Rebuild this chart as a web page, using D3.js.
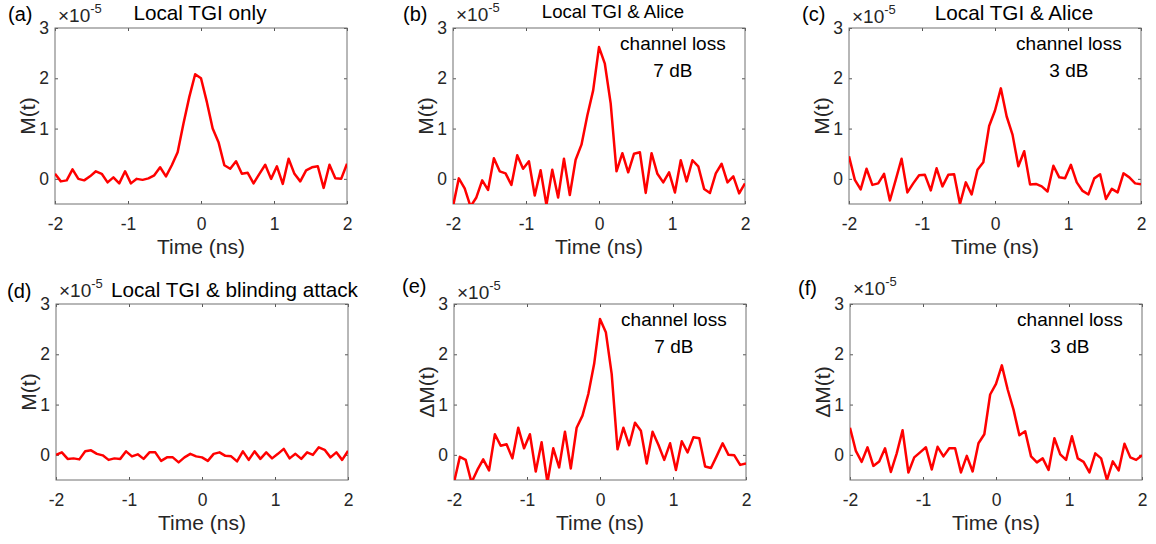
<!DOCTYPE html>
<html>
<head>
<meta charset="utf-8">
<script src="https://cdn.jsdelivr.net/npm/d3@7"></script>
<style>
  body { margin: 0; background: #fff; }
  text { font-family: "Liberation Sans", Arial, sans-serif; }
</style>
</head>
<body>
<div id="chart"></div>
<script>
// time axis (ns) and the six traces, in units of 1e-5
var times = [-2, -1.92, -1.84, -1.76, -1.68, -1.6, -1.52, -1.44, -1.36, -1.28, -1.2, -1.12, -1.04,
  -0.96, -0.88, -0.8, -0.72, -0.64, -0.56, -0.48, -0.4, -0.32, -0.24, -0.16, -0.08, 0,
  0.08, 0.16, 0.24, 0.32, 0.4, 0.48, 0.56, 0.64, 0.72, 0.8, 0.88, 0.96, 1.04, 1.12, 1.2,
  1.28, 1.36, 1.44, 1.52, 1.6, 1.68, 1.76, 1.84, 1.92, 2];

var mA = [0.1, -0.05, -0.03, 0.19, 0, -0.03, 0.05, 0.15, 0.1, -0.07, 0.03, -0.09, 0.15, -0.09, 0, -0.02,
  0.01, 0.07, 0.23, 0.05, 0.27, 0.53, 1.1, 1.63, 2.08, 2.0, 1.53, 1.0, 0.73, 0.27, 0.2, 0.35, 0.1, 0.12,
  -0.09, 0.1, 0.28, 0, 0.25, -0.1, 0.4, 0.1, -0.05, 0.17, 0.23, 0.25, -0.18, 0.28, 0.01, 0, 0.3];
var mB = [-0.55, 0.01, -0.19, -0.55, -0.37, -0.03, -0.22, 0.41, 0.15, 0.11, -0.12, 0.47, 0.2, 0.35, -0.33,
  0.17, -0.52, 0.18, -0.37, 0.4, -0.32, 0.38, 0.68, 1.26, 1.76, 2.62, 2.29, 1.5, 0.15, 0.51, 0.13, 0.5,
  0.53, -0.28, 0.51, 0.1, -0.07, 0.13, -0.27, 0.37, -0.05, 0.37, 0.25, -0.2, -0.28, 0.11, 0.3, -0.07,
  0.05, -0.29, -0.09];
var mC = [0.45, -0.02, -0.21, 0.2, -0.12, -0.09, 0.1, -0.43, -0.02, 0.4, -0.27, -0.09, 0.07, 0.08, -0.23,
  0.21, -0.15, 0.08, 0.09, -0.5, -0.07, -0.31, 0.18, 0.33, 1.05, 1.36, 1.8, 1.24, 0.88, 0.25, 0.55, -0.11,
  -0.1, -0.15, -0.25, 0.26, 0.03, 0.01, 0.28, -0.07, -0.24, -0.31, 0.01, 0.09, -0.4, -0.2, -0.27, 0.11,
  0.03, -0.09, -0.11];
var mD = [0, 0.05, -0.08, -0.07, -0.09, 0.07, 0.09, 0.02, -0.01, -0.1, -0.07, -0.08, 0.07, -0.03, 0.01,
  -0.08, 0.05, 0.05, -0.12, -0.05, -0.05, -0.15, -0.05, 0.02, -0.03, -0.05, -0.12, 0.02, 0.05, -0.02,
  -0.03, -0.13, 0.07, -0.1, 0.07, -0.08, 0.05, -0.07, 0.02, 0.12, -0.07, 0.02, -0.08, 0.05, 0, 0.15,
  0.1, -0.05, 0.05, -0.1, 0.08];
var mE = [-0.55, -0.04, -0.1, -0.55, -0.3, -0.09, -0.31, 0.41, 0.18, 0.21, -0.07, 0.54, 0.13, 0.41, -0.33,
  0.25, -0.55, 0.13, -0.25, 0.46, -0.27, 0.54, 0.78, 1.21, 1.81, 2.7, 2.44, 1.61, 0.11, 0.54, 0.19, 0.64,
  0.48, -0.17, 0.46, 0.2, -0.1, 0.23, -0.3, 0.27, 0.05, 0.35, 0.33, -0.23, -0.26, -0.02, 0.23, 0, -0.01,
  -0.2, -0.17];
var mF = [0.54, 0.08, -0.14, 0.15, -0.22, -0.13, 0.13, -0.34, 0.03, 0.49, -0.35, -0.05, 0.05, 0.15, -0.29,
  0.16, -0.03, 0.13, 0.13, -0.35, -0.02, -0.33, 0.23, 0.41, 1.2, 1.41, 1.78, 1.3, 0.9, 0.39, 0.47, -0.03,
  -0.15, -0.07, -0.3, 0.33, 0.01, -0.1, 0.37, -0.07, -0.14, -0.35, 0.03, -0.07, -0.5, -0.13, -0.31, 0.22,
  -0.05, -0.1, -0.01];

var xTicks = [-2, -1, 0, 1, 2];
var yTicks = [0, 1, 2, 3];

var panels = [
  {tag: "(a)", title: "Local TGI only", ylab: "M(t)", vals: mA, left: 55, top: 28,
   tagX: 8, tagY: 21, titleX: 200, titleY: 20, titleAnchor: "middle", exY: 22, note: null},
  {tag: "(b)", title: "Local TGI & Alice", ylab: "M(t)", vals: mB, left: 453, top: 28,
   tagX: 403, tagY: 21, titleX: 613, titleY: 18, titleAnchor: "middle", titleSize: 18.6, exY: 21, note: "7 dB"},
  {tag: "(c)", title: "Local TGI & Alice", ylab: "M(t)", vals: mC, left: 849, top: 28,
   tagX: 802, tagY: 21, titleX: 1014, titleY: 20, titleAnchor: "middle", exY: 23, note: "3 dB"},
  {tag: "(d)", title: "Local TGI & blinding attack", ylab: "M(t)", vals: mD, left: 56, top: 304,
   tagX: 7, tagY: 298, titleX: 111, titleY: 297, titleAnchor: "start", exY: 297, note: null},
  {tag: "(e)", title: null, ylab: "\u0394M(t)", vals: mE, left: 454, top: 304,
   tagX: 402, tagY: 293, exY: 299, note: "7 dB"},
  {tag: "(f)", title: null, ylab: "\u0394M(t)", vals: mF, left: 850, top: 304,
   tagX: 798, tagY: 295, exY: 295, note: "3 dB"}
];

var width = 292, height = 176;
var axisCol = "#262626";

var svg = d3.select("#chart").append("svg")
  .attr("width", 1156)
  .attr("height", 544);

panels.forEach(function(p, i) {
  var x = d3.scaleLinear().domain([-2, 2]).range([0, width]);
  var y = d3.scaleLinear().domain([-0.5, 3]).range([height, 0]);

  var g = svg.append("g")
    .attr("transform", "translate(" + p.left + "," + p.top + ")");

  g.append("clipPath").attr("id", "clip" + i)
    .append("rect").attr("width", width).attr("height", height);

  // ticks inside, mirrored on the opposite sides (matlab box style)
  var fmt = function(d) { return d; };
  var xb = g.append("g").attr("transform", "translate(0," + height + ")")
    .call(d3.axisBottom(x).tickValues(xTicks).tickSizeInner(-3).tickSizeOuter(0).tickPadding(14)
      .tickFormat(fmt));
  var xt = g.append("g")
    .call(d3.axisTop(x).tickValues(xTicks).tickSizeInner(-3).tickSizeOuter(0).tickFormat(""));
  var yl = g.append("g")
    .call(d3.axisLeft(y).tickValues(yTicks).tickSizeInner(-3).tickSizeOuter(0).tickPadding(6)
      .tickFormat(fmt));
  var yr = g.append("g").attr("transform", "translate(" + width + ",0)")
    .call(d3.axisRight(y).tickValues(yTicks).tickSizeInner(-3).tickSizeOuter(0).tickFormat(""));

  [xb, xt, yl, yr].forEach(function(a) {
    a.select(".domain").remove();
    a.selectAll("line").attr("stroke", "#555");
    a.selectAll("text").attr("fill", axisCol).style("font-size", "17.5px");
  });

  g.append("rect")
    .attr("width", width).attr("height", height)
    .attr("fill", "none").attr("stroke", "#707070").attr("stroke-width", 1);

  var line = d3.line()
    .x(function(d, j) { return x(times[j]); })
    .y(function(d) { return y(d); });

  g.append("path")
    .datum(p.vals)
    .attr("clip-path", "url(#clip" + i + ")")
    .attr("d", line)
    .attr("fill", "none")
    .attr("stroke", "#ff0000")
    .attr("stroke-width", 2.5)
    .attr("stroke-linejoin", "round");

  // axis labels
  g.append("text")
    .attr("x", width / 2).attr("y", height + 50)
    .attr("text-anchor", "middle")
    .attr("fill", axisCol)
    .style("font-size", "21px")
    .text("Time (ns)");

  g.append("text")
    .attr("transform", "translate(-20," + (height / 2) + ") rotate(-90)")
    .attr("text-anchor", "middle")
    .attr("fill", axisCol)
    .style("font-size", "21px")
    .text(p.ylab);

  // exponent label
  var ex = svg.append("text")
    .attr("x", p.left + 3).attr("y", p.exY)
    .attr("fill", axisCol)
    .style("font-size", "19px");
  ex.append("tspan").text("\u00d710");
  ex.append("tspan").attr("dy", -9).style("font-size", "13px").text("-5");

  // panel tag
  svg.append("text")
    .attr("x", p.tagX).attr("y", p.tagY)
    .attr("fill", "#000")
    .style("font-size", "20px")
    .text(p.tag);

  if (p.title) {
    svg.append("text")
      .attr("x", p.titleX).attr("y", p.titleY)
      .attr("text-anchor", p.titleAnchor)
      .attr("fill", "#000")
      .style("font-size", (p.titleSize || 20.7) + "px")
      .text(p.title);
  }

  if (p.note) {
    g.append("text")
      .attr("x", width * 0.753).attr("y", 22)
      .attr("text-anchor", "middle")
      .attr("fill", "#000")
      .style("font-size", "19px")
      .text("channel loss");
    g.append("text")
      .attr("x", width * 0.753).attr("y", 49)
      .attr("text-anchor", "middle")
      .attr("fill", "#000")
      .style("font-size", "19px")
      .text(p.note);
  }
});
</script>
</body>
</html>
